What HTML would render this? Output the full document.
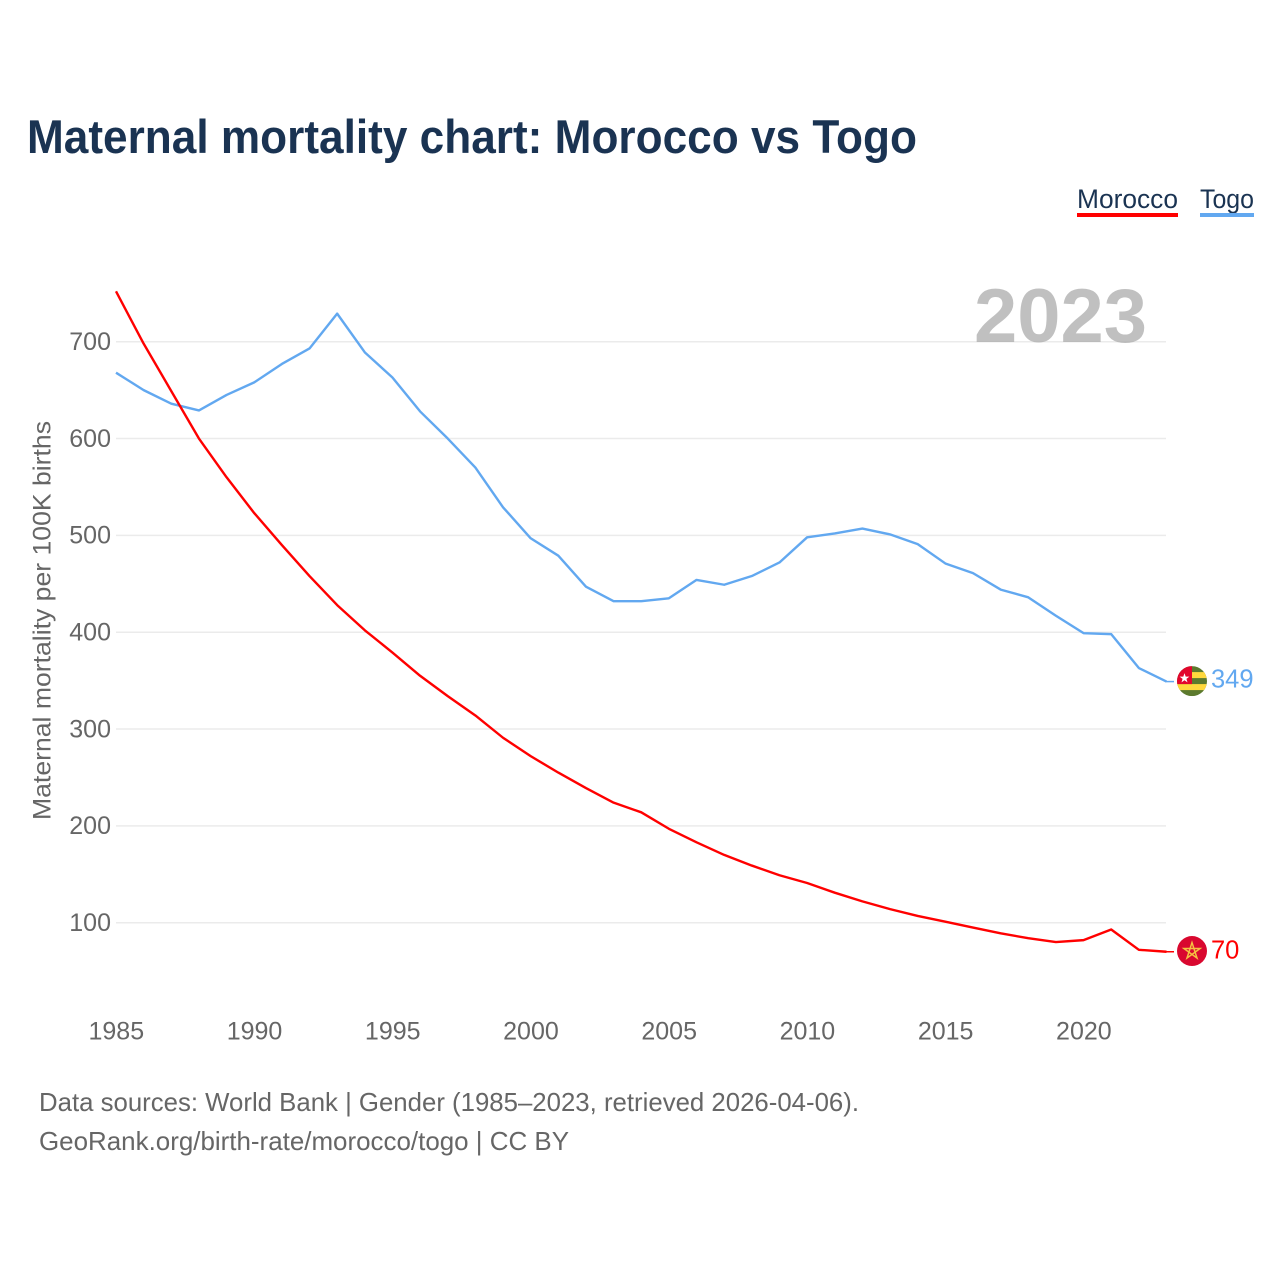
<!DOCTYPE html>
<html lang="en">
<head>
<meta charset="utf-8">
<title>Maternal mortality chart: Morocco vs Togo</title>
<style>
html,body{margin:0;padding:0;background:#fff;width:1280px;height:1280px;overflow:hidden}
svg{display:block}
text{font-family:"Liberation Sans",sans-serif}
</style>
</head>
<body>
<svg id="chart" width="1280" height="1280" viewBox="0 0 1280 1280" xmlns="http://www.w3.org/2000/svg">
<defs>
<clipPath id="flag-clip-togo"><circle cx="0" cy="0" r="15"/></clipPath>
<clipPath id="flag-clip-morocco"><circle cx="0" cy="0" r="15"/></clipPath>
</defs>
<rect width="1280" height="1280" fill="#fff"/>
<text x="27" y="153" font-size="47" font-weight="700" fill="#1a3352" textLength="890" lengthAdjust="spacingAndGlyphs">Maternal mortality chart: Morocco vs Togo</text>

<g>
<text x="1077" y="208" font-size="27" fill="#1a3352" textLength="101" lengthAdjust="spacingAndGlyphs">Morocco</text>
<rect x="1077" y="213" width="101" height="4" fill="#ff0000"/>
</g>
<g>
<text x="1200" y="208" font-size="27" fill="#1a3352" textLength="54" lengthAdjust="spacingAndGlyphs">Togo</text>
<rect x="1200" y="213" width="54" height="4" fill="#62a8f0"/>
</g>

<g id="grid"></g>
<g id="yticks"></g>
<g id="xticks"></g>

<text x="974" y="342" font-size="76" font-weight="700" fill="#a8a8a8" fill-opacity="0.72" textLength="173" lengthAdjust="spacingAndGlyphs">2023</text>

<text transform="translate(50.5,620.5) rotate(-90)" text-anchor="middle" font-size="25" fill="#666" textLength="399" lengthAdjust="spacingAndGlyphs">Maternal mortality per 100K births</text>

<g id="series"></g>

<g id="flag-togo">
<g clip-path="url(#flag-clip-togo)">
<rect x="-15" y="-15" width="30" height="30" fill="#5c7a2e"/>
<rect x="-1" y="-9" width="16" height="6" fill="#ffd83d"/>
<rect x="-15" y="3" width="30" height="6" fill="#ffd83d"/>
<rect x="-15" y="-15" width="15" height="18" fill="#e2062c"/>
<polygon points="-7.5,-7 -6.3,-3.4 -2.6,-3.4 -5.6,-1.2 -4.5,2.3 -7.5,0.2 -10.5,2.3 -9.4,-1.2 -12.4,-3.4 -8.7,-3.4" fill="#fff" transform="translate(0,-1)"/>
</g>
</g>
<g id="flag-morocco">
<circle cx="0" cy="0" r="15" fill="#d9082f"/>
<polygon points="0,-8.5 5,7 -8.1,-2.6 8.1,-2.6 -5,7" fill="none" stroke="#f5c242" stroke-width="1.5"/>
</g>

<g>
<text x="39" y="1111" font-size="26" fill="#666" textLength="820" lengthAdjust="spacingAndGlyphs">Data sources: World Bank | Gender (1985–2023, retrieved 2026-04-06).</text>
<text x="39" y="1150" font-size="26" fill="#666" textLength="530" lengthAdjust="spacingAndGlyphs">GeoRank.org/birth-rate/morocco/togo | CC BY</text>
</g>
</svg>
<script>
const years = [1985,1986,1987,1988,1989,1990,1991,1992,1993,1994,1995,1996,1997,1998,1999,2000,2001,2002,2003,2004,2005,2006,2007,2008,2009,2010,2011,2012,2013,2014,2015,2016,2017,2018,2019,2020,2021,2022,2023];
const moroccoValues = [752,698,649,600,560,523,490,458,428,402,379,355,334,314,291,272,255,239,224,214,197,183,170,159,149,141,131,122,114,107,101,95,89,84,80,82,93,72,70];
const togoValues = [668,650,636,629,645,658,677,693,729,689,663,628,600,570,529,497,479,447,432,432,435,454,449,458,472,498,502,507,501,491,471,461,444,436,417,399,398,363,349];
const yTickValues = [100,200,300,400,500,600,700];
const xTickValues = [1985,1990,1995,2000,2005,2010,2015,2020];

const NS = 'http://www.w3.org/2000/svg';
const xScale = y => 116 + (y - 1985) * (1166.5 - 116) / 38;
const yScale = v => 922.7 - (v - 100) * (922.7 - 341.7) / 600;

const grid = document.getElementById('grid');
const yticks = document.getElementById('yticks');
const xticks = document.getElementById('xticks');
const series = document.getElementById('series');
const root = document.getElementById('chart');

yTickValues.forEach(v => {
  const line = document.createElementNS(NS, 'line');
  
  
  line.setAttribute('x1', 116);
  line.setAttribute('x2', 1166);
  line.setAttribute('y1', yScale(v));
  line.setAttribute('y2', yScale(v));
  line.setAttribute('stroke', '#ebebeb');
  line.setAttribute('stroke-width', 1.5);
  grid.appendChild(line);

  const t = document.createElementNS(NS, 'text');
  
  
  t.setAttribute('x', 111);
  t.setAttribute('y', yScale(v) + 8.3);
  t.setAttribute('text-anchor', 'end');
  t.setAttribute('font-size', 25);
  t.setAttribute('fill', '#666');
  t.textContent = v;
  yticks.appendChild(t);
});

xTickValues.forEach(y => {
  const t = document.createElementNS(NS, 'text');
  
  
  t.setAttribute('x', xScale(y) + 0.3);
  t.setAttribute('y', 1039.5);
  t.setAttribute('text-anchor', 'middle');
  t.setAttribute('font-size', 25);
  t.setAttribute('fill', '#666');
  t.textContent = y;
  xticks.appendChild(t);
});

function drawLine(values, color, lineName, connectorName) {
  const p = document.createElementNS(NS, 'polyline');
  
  
  p.setAttribute('points', values.map((v, i) => xScale(years[i]) + ',' + yScale(v)).join(' '));
  p.setAttribute('fill', 'none');
  p.setAttribute('stroke', color);
  p.setAttribute('stroke-width', 2.4);
  p.setAttribute('stroke-linejoin', 'round');
  series.appendChild(p);

  const last = yScale(values[values.length - 1]);
  const c = document.createElementNS(NS, 'line');
  
  
  c.setAttribute('x1', 1166);
  c.setAttribute('x2', 1174);
  c.setAttribute('y1', last);
  c.setAttribute('y2', last);
  c.setAttribute('stroke', color);
  c.setAttribute('stroke-width', 1.5);
  series.appendChild(c);
}
drawLine(togoValues, '#62a8f0', 'togo-line', 'togo-end-connector');
drawLine(moroccoValues, '#ff0000', 'morocco-line', 'morocco-end-connector');

const togoLast = togoValues[togoValues.length - 1];
const moroccoLast = moroccoValues[moroccoValues.length - 1];
document.getElementById('flag-togo').setAttribute('transform', 'translate(1192,' + (yScale(togoLast) - 0.5) + ')');
document.getElementById('flag-morocco').setAttribute('transform', 'translate(1192,' + (yScale(moroccoLast) - 0.7) + ')');

const togoLabel = document.createElementNS(NS, 'text');


togoLabel.setAttribute('x', 1211);
togoLabel.setAttribute('y', yScale(togoLast) + 6);
togoLabel.setAttribute('font-size', 25.5);
togoLabel.setAttribute('fill', '#62a8f0');
togoLabel.textContent = togoLast;
root.appendChild(togoLabel);

const moroccoLabel = document.createElementNS(NS, 'text');


moroccoLabel.setAttribute('x', 1211);
moroccoLabel.setAttribute('y', yScale(moroccoLast) + 6.5);
moroccoLabel.setAttribute('font-size', 25.5);
moroccoLabel.setAttribute('fill', '#ff0000');
moroccoLabel.textContent = moroccoLast;
root.appendChild(moroccoLabel);
</script>
</body>
</html>
